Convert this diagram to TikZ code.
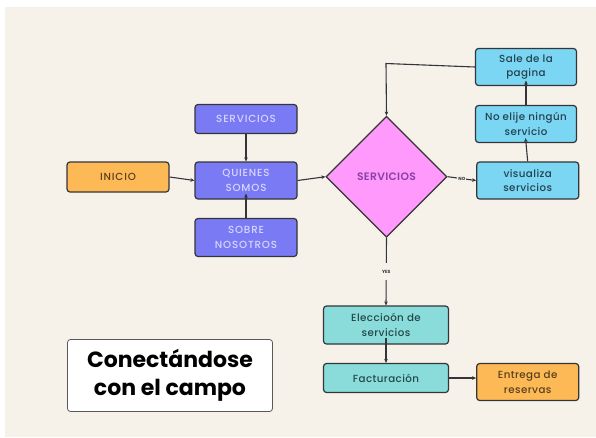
\documentclass[tikz,border=0pt]{standalone}
\usepackage{fontspec}
\setmainfont{Poppins}
\newfontfamily\popm[LetterSpace=4]{Poppins Medium}
\newfontfamily\popw[LetterSpace=8]{Poppins Medium}
\newfontfamily\popsb[LetterSpace=3]{Poppins SemiBold}
\usetikzlibrary{shapes.geometric,arrows.meta}
\definecolor{bg}{HTML}{F6F2EA}
\definecolor{bord}{HTML}{333538}
\definecolor{purp}{HTML}{7A7AF4}
\definecolor{purptxt}{HTML}{D6D6FF}
\definecolor{orng}{HTML}{FDB955}
\definecolor{orngtxt}{HTML}{5A4020}
\definecolor{pink}{HTML}{FF99FB}
\definecolor{pinktxt}{HTML}{8A3FA8}
\definecolor{lblue}{HTML}{7AD6F2}
\definecolor{lbluetxt}{HTML}{24424F}
\definecolor{teal}{HTML}{8ADCDA}
\definecolor{tealtxt}{HTML}{24484A}
\tikzset{
  box/.style={draw=bord, line width=1.2pt, rounded corners=3pt, align=center,
    inner sep=0pt, minimum width=102pt, minimum height=37pt,
    font=\popm\fontsize{10.3}{14.5}\selectfont},
  pbox/.style={box, fill=purp, text=purptxt, font=\popw\fontsize{10.3}{14.5}\selectfont},
  obox/.style={box, fill=orng, text=orngtxt},
  bbox/.style={box, fill=lblue, text=lbluetxt},
  tbox/.style={box, fill=teal, text=tealtxt, minimum width=125pt},
  conn/.style={draw=bord, line width=1.1pt, -{Stealth[length=4pt,width=3.6pt]}},
  lbl/.style={fill=bg, text=bord, font=\bfseries\fontsize{4.5}{5}\selectfont, inner xsep=1pt}
}
\begin{document}
\begin{tikzpicture}[x=1pt,y=-1pt]
\useasboundingbox (0,0) rectangle (596,437);
\fill[white] (0,0) rectangle (596,437);
\fill[bg] (5,7) rectangle (596,437);

\node[pbox, minimum height=29pt] (serv) at (246,119) {SERVICIOS};
\node[pbox] (quien) at (246,180.5) {QUIENES\\SOMOS};
\node[pbox, minimum height=38pt] (sobre) at (246,237.5) {SOBRE\\NOSOTROS};
\node[obox, minimum height=30pt, font=\popw\fontsize{10.3}{14.5}\selectfont] (inicio) at (118,177) {INICIO};
\node[diamond, draw=bord, line width=1.2pt, fill=pink, text=pinktxt, minimum width=121pt,
      minimum height=121pt, inner sep=0pt, font=\popsb\fontsize{10.8}{12}\selectfont] (dia) at (386.5,176.7) {SERVICIOS};
\node[bbox] (vis) at (527.7,180.5) {visualiza\\servicios};
\node[bbox, minimum width=101pt] (noel) at (526,124) {No elije ningún\\servicio};
\node[bbox, minimum width=101pt] (sale) at (526,67) {Sale de la\\pagina};
\node[tbox, minimum height=38pt] (elec) at (386,325) {Eleccioón de\\servicios};
\node[tbox, minimum height=29pt] (fact) at (386,378) {Facturación};
\node[obox] (entr) at (527.7,382) {Entrega de\\reservas};
\node[draw=black!65, line width=0.8pt, fill=white, rounded corners=3pt, minimum width=205pt,
      minimum height=72pt, align=center, font=\bfseries\fontsize{22}{28}\selectfont] (title) at (170,375.5)
      {Conectándose\\con el campo};

\coordinate (c1) at (386,63.5);

\draw[conn] (inicio.east) -- (quien.west);
\draw[conn] (serv.south) -- (quien.north);
\draw[conn, shorten >=-6pt] (sobre.north) -- (quien.south);
\draw[conn] (quien.east) -- (dia.west);
\draw[conn] (dia.east) -- node[lbl] {NO} (vis.west);
\draw[conn, shorten >=-5pt] (vis.north) -- (noel.south);
\draw[conn, shorten >=-5.5pt] (noel.north) -- (sale.south);
\draw[conn] (sale.west) -- (c1) -- (dia.north);
\draw[conn] (dia.south) -- node[lbl, inner ysep=7pt] {YES} (elec.north);
\draw[conn, shorten <=-7pt] (elec.south) -- (fact.north);
\draw[conn] (fact.east) -- (fact.east -| entr.west);
\end{tikzpicture}
\end{document}
